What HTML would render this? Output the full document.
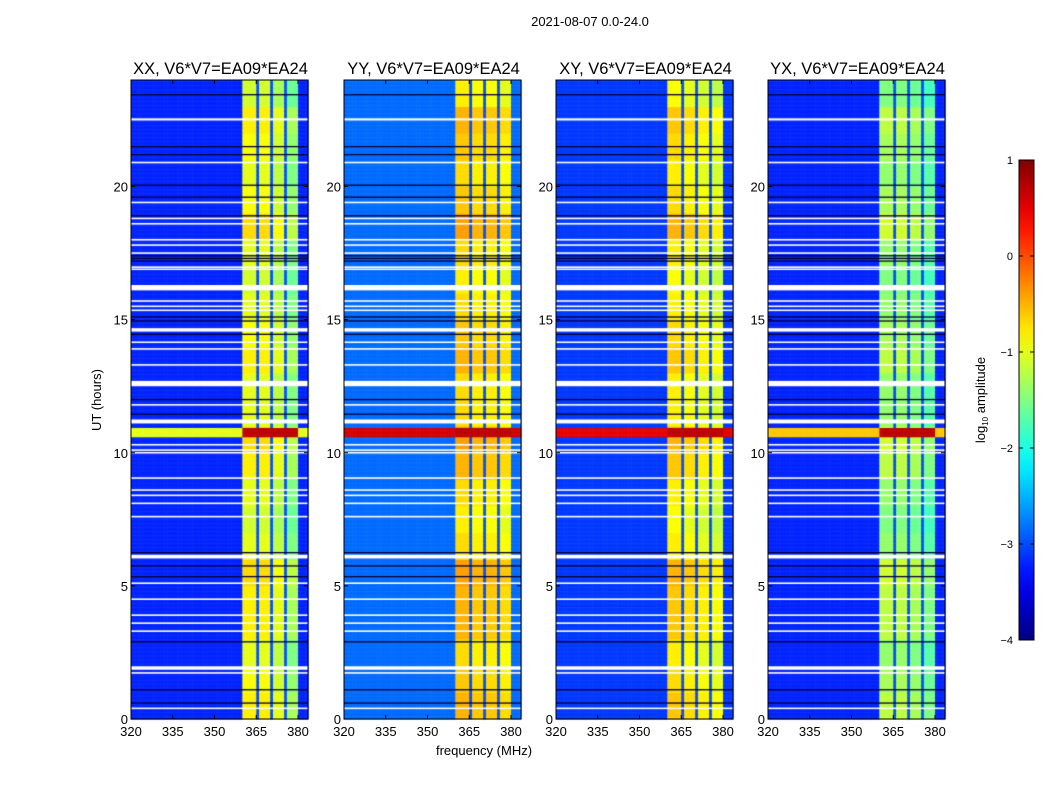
<!DOCTYPE html>
<html><head><meta charset="utf-8">
<style>
body{margin:0;background:#fff;width:1050px;height:800px;overflow:hidden;font-family:"Liberation Sans",sans-serif;}
#root{position:relative;width:1050px;height:800px;}
canvas{position:absolute;}
</style></head>
<body>
<div id="root">
<svg id="svg" width="1050" height="800" style="position:absolute;left:0;top:0"></svg>
</div>
<script>
// ---- data ----
const panelTitles = ["XX, V6*V7=EA09*EA24","YY, V6*V7=EA09*EA24","XY, V6*V7=EA09*EA24","YX, V6*V7=EA09*EA24"];
const freqStart = 320, freqStep = 1, nChan = 64;
const bandEdges = [360, 365, 370, 375, 380];
const gapChannels = [365, 370, 375];
const bandLevels = [[-1.0,-1.0,-1.2,-1.5],[-0.7,-0.8,-0.8,-0.9],[-0.8,-0.9,-1.0,-1.1],[-1.4,-1.4,-1.5,-1.7]];
const bgLevels = [-3.2,-2.85,-3.1,-3.2];
const gapLevel = -3.0;
const hourBandOffset = [0.2,0.1,0.0,0.2,0.2,0.3,0,-0.1,0,0.2,0.3,0,0,0.2,0.1,0,-0.1,0,0.3,0.1,0,0.1,0.2,-0.1];
const eventTimes = [10.62, 10.95];
const eventBand = 0.7;
const eventBg = [-1.0, 0.6, 0.5, -0.6];
const flagged = [[22.48,22.56],[20.87,20.93],[19.37,19.43],[18.77,18.83],[18.57,18.63],[17.97,18.03],[17.77,17.83],[17.47,17.53],[16.94,17.0],[16.87,16.92],[16.1,16.3],[15.67,15.73],[15.47,15.53],[15.32,15.38],[14.55,14.68],[14.12,14.18],[13.87,13.93],[13.27,13.33],[12.5,12.7],[11.77,11.83],[11.1,11.25],[10.27,10.33],[10.07,10.13],[9.97,10.03],[9.02,9.08],[8.57,8.63],[8.37,8.43],[8.07,8.13],[7.57,7.63],[6.03,6.17],[5.07,5.13],[4.47,4.53],[3.87,3.93],[3.57,3.63],[3.27,3.33],[1.85,1.98],[1.7,1.76],[0.37,0.43]];
const darkRows = [23.45,21.5,21.2,20.05,19.6,18.9,17.4,17.3,17.2,15.1,14.95,14.45,12.0,11.45,6.25,5.75,5.35,2.9,1.1,0.6];
const xTicks = [320,335,350,365,380];
const yTicks = [0,5,10,15,20];
const cbTicks = [1,0,-1,-2,-3,-4];
// ---- layout ----
const panelX = [131,344,556,768], pW = 177, pTop = 80, pH = 639;
const xMin = 320, xMax = 383.6, tMax = 24, vmin = -4, vmax = 1;
function xs(i,f){return panelX[i] + (f-xMin)/(xMax-xMin)*pW;}
function ys(t){return pTop + pH - t/tMax*pH;}
function jet(v){
  let x=(v-vmin)/(vmax-vmin); x=Math.max(0,Math.min(1,x));
  const c=t=>Math.max(0,Math.min(1,1.5-Math.abs(4*x-t)));
  return `rgb(${Math.round(c(3)*255)},${Math.round(c(2)*255)},${Math.round(c(1)*255)})`;
}
const root=document.getElementById('root');
const svg=document.getElementById('svg');
const NS="http://www.w3.org/2000/svg";
function addText(txt,x,y,size,anchor,name,rot){
  const t=document.createElementNS(NS,'text');
  t.setAttribute('x',x);t.setAttribute('y',y);t.setAttribute('font-size',size);
  t.setAttribute('text-anchor',anchor||'middle');t.setAttribute('font-family','Liberation Sans, sans-serif');
  if(rot) t.setAttribute('transform',`rotate(${rot} ${x} ${y})`);
  t.textContent=txt;
  
  
  svg.appendChild(t);return t;
}
function addLine(x1,y1,x2,y2,name,w){
  const l=document.createElementNS(NS,'line');
  l.setAttribute('x1',x1);l.setAttribute('y1',y1);l.setAttribute('x2',x2);l.setAttribute('y2',y2);
  l.setAttribute('stroke','#000');l.setAttribute('stroke-width',w||1);
  
  
  svg.appendChild(l);
}
function value(p,f,t){
  const inBand = f>=bandEdges[0] && f<bandEdges[bandEdges.length-1];
  if(t>=eventTimes[0] && t<eventTimes[1]) return inBand? eventBand : eventBg[p];
  if(!inBand) return bgLevels[p];
  if(gapChannels.indexOf(f)>=0) return gapLevel;
  let sub=0; for(let k=0;k<4;k++) if(f>=bandEdges[k]) sub=k;
  return bandLevels[p][sub] + hourBandOffset[Math.min(23,Math.floor(t))];
}
for(let p=0;p<4;p++){
  const cv=document.createElement('canvas');
  cv.width=1050;cv.height=800;cv.style.left='0';cv.style.top='0';
  
  
  root.insertBefore(cv,svg);
  const ctx=cv.getContext('2d');
  const dt=0.05;
  for(let r=0;r<tMax/dt;r++){
    const t=r*dt, tc=t+dt/2;
    for(let c=0;c<nChan;c++){
      const f=freqStart+c*freqStep;
      const x0=xs(p,f), x1=Math.min(xs(p,f+freqStep),panelX[p]+pW);
      if(x0>=panelX[p]+pW) continue;
      ctx.fillStyle=jet(value(p,f,tc));
      ctx.fillRect(x0,ys(t+dt),x1-x0+0.5,ys(t)-ys(t+dt)+0.5);
    }
  }
  ctx.fillStyle='#000033';
  darkRows.forEach(t=>ctx.fillRect(panelX[p],ys(t)-0.6,pW,1.3));
  ctx.fillStyle='#fff';
  flagged.forEach(([a,b])=>ctx.fillRect(panelX[p],ys(b),pW,Math.max(1.5,ys(a)-ys(b))));
  const r=document.createElementNS(NS,'rect');
  r.setAttribute('x',panelX[p]);r.setAttribute('y',pTop);r.setAttribute('width',pW);r.setAttribute('height',pH);
  r.setAttribute('fill','none');r.setAttribute('stroke','#000');
  
  
  svg.appendChild(r);
  addText(panelTitles[p],panelX[p]+pW/2+1,74,16.5,'middle','panel-title-'+(p+1));
  xTicks.forEach(f=>{const x=xs(p,f);
    addLine(x,pTop+pH,x,pTop+pH-4,'x-tick');addLine(x,pTop,x,pTop+4,'x-tick-top');
    addText(String(f),x,736,13,'middle','x-tick-label');});
  yTicks.forEach(t=>{const y=ys(t);
    addLine(panelX[p],y,panelX[p]+4,y,'y-tick');addLine(panelX[p]+pW,y,panelX[p]+pW-4,y,'y-tick-right');
    addText(String(t),panelX[p]-3,y+5,13,'end','y-tick-label');});
}
addText("2021-08-07 0.0-24.0",590,26,13,'middle','figure-title');
addText("frequency (MHz)",484,755,13,'middle','x-axis-title');
addText("UT (hours)",101,400,13,'middle','y-axis-title',-90);
const cbX=1019,cbY=160,cbW=15,cbH=480;
const defs=document.createElementNS(NS,'defs');
const g=document.createElementNS(NS,'linearGradient');g.id='jetg';
g.setAttribute('x1','0');g.setAttribute('y1','1');g.setAttribute('x2','0');g.setAttribute('y2','0');
for(let i=0;i<=20;i++){const s=document.createElementNS(NS,'stop');s.setAttribute('offset',i/20);
  s.setAttribute('stop-color',jet(vmin+(vmax-vmin)*i/20));g.appendChild(s);}
defs.appendChild(g);svg.appendChild(defs);
const cb=document.createElementNS(NS,'rect');
cb.setAttribute('x',cbX);cb.setAttribute('y',cbY);cb.setAttribute('width',cbW);cb.setAttribute('height',cbH);
cb.setAttribute('fill','url(#jetg)');cb.setAttribute('stroke','#000');


svg.appendChild(cb);
cbTicks.forEach(v=>{const y=cbY+(vmax-v)/(vmax-vmin)*cbH;
  addLine(cbX,y,cbX+4,y,'colorbar-tick');addLine(cbX+cbW,y,cbX+cbW-4,y,'colorbar-tick-right');
  addText(v<0?'\u2212'+Math.abs(v):String(v),1013,y+4,11,'end','colorbar-tick-label');});
const lab=addText("",985,400,13,'middle','colorbar-label',-90);
lab.innerHTML='log<tspan font-size="8" dy="3">10</tspan><tspan dy="-3"> amplitude</tspan>';
</script>
</body></html>
